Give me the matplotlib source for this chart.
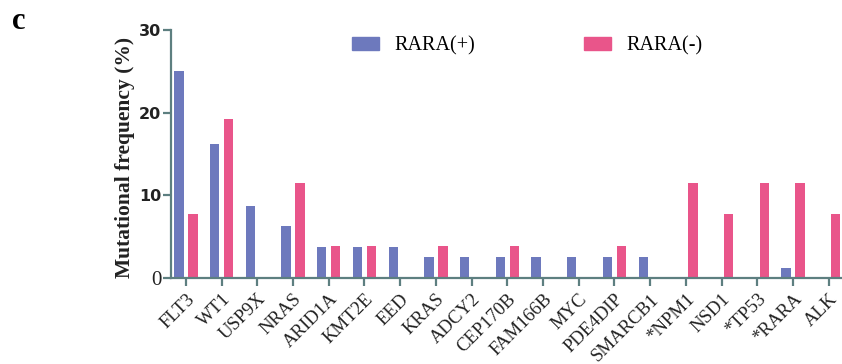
import numpy as np
import matplotlib.pyplot as plt
from matplotlib.patches import Patch

plt.rcParams['font.family'] = 'serif'
plt.rcParams['font.serif'] = ['Liberation Serif', 'Times New Roman', 'DejaVu Serif']

genes = ['FLT3', 'WT1', 'USP9X', 'NRAS', 'ARID1A', 'KMT2E', 'EED', 'KRAS',
         'ADCY2', 'CEP170B', 'FAM166B', 'MYC', 'PDE4DIP', 'SMARCB1',
         '*NPM1', 'NSD1', '*TP53', '*RARA', 'ALK']
rara_pos = [25.0, 16.25, 8.75, 6.25, 3.75, 3.75, 3.75, 2.5, 2.5, 2.5,
            2.5, 2.5, 2.5, 2.5, 0, 0, 0, 1.25, 0]
rara_neg = [7.69, 19.23, 0, 11.54, 3.85, 3.85, 0, 3.85, 0, 3.85,
            0, 0, 3.85, 0, 11.54, 7.69, 11.54, 11.54, 7.69]

blue = '#6d79bd'
pink = '#e9558a'
axis_col = '#5d7f80'

fig = plt.figure(figsize=(8.42, 3.64), dpi=100)
ax = fig.add_axes([0.203, 0.236, 0.797, 0.682])

x = np.arange(len(genes))
w = 0.26
off = 0.195
ax.bar(x - off, rara_pos, width=w, color=blue, label='RARA(+)')
ax.bar(x + off, rara_neg, width=w, color=pink, label='RARA(-)')

ax.set_xlim(-0.42, 18.37)
ax.set_ylim(0, 30)
ax.set_yticks([0, 10, 20, 30])

for side in ['top', 'right']:
    ax.spines[side].set_visible(False)
for side in ['left', 'bottom']:
    ax.spines[side].set_color(axis_col)
    ax.spines[side].set_linewidth(1.6)

ax.tick_params(axis='both', colors=axis_col, width=1.6, length=5.5)
ax.tick_params(axis='y', pad=1.5)
ax.set_xticks(x)
ax.set_xticklabels(genes, rotation=45, ha='right', rotation_mode='anchor',
                   fontsize=13.5, color='#222222')
for lab in ax.get_yticklabels():
    lab.set_color('#222222')
    if lab.get_text() == '0':
        lab.set_fontsize(15)
    else:
        lab.set_family('DejaVu Sans')
        lab.set_fontweight('bold')
        lab.set_fontsize(11.5)

ax.set_ylabel('Mutational frequency (%)', fontweight='bold',
              fontsize=15.5, color='#222222')
ax.yaxis.set_label_coords(-0.053, 0.488)

fig.text(0.014, 0.92, 'c', fontweight='bold', fontsize=22)

handles = [Patch(color=blue), Patch(color=pink)]
fig.legend(handles, ['RARA(+)', 'RARA(-)'], loc='center left',
           bbox_to_anchor=(0.418, 0.874), ncol=2, frameon=False,
           prop={'size': 14.5}, handlelength=1.35,
           handleheight=0.65, handletextpad=0.75, columnspacing=5.4,
           borderpad=0, borderaxespad=0)

fig.savefig('out.png', dpi=100)
